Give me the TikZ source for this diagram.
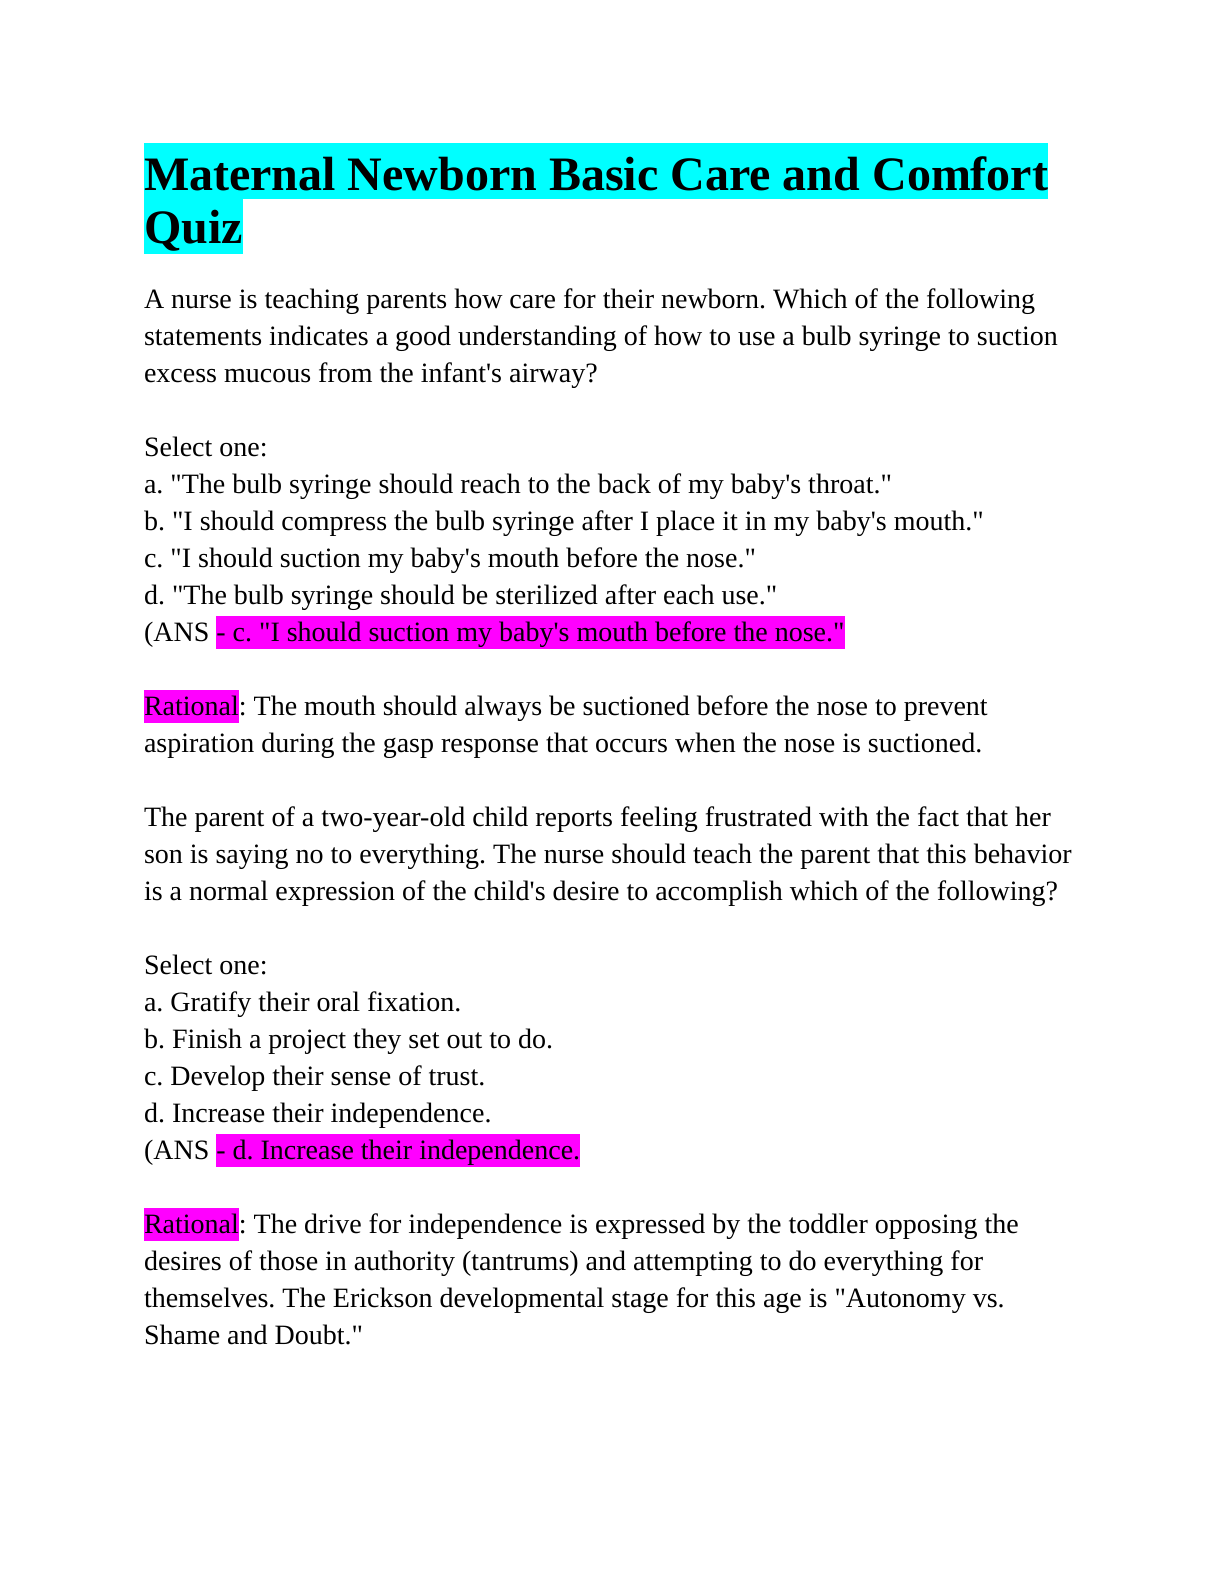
\documentclass[tikz,border=0pt]{standalone}
\usepackage{fontspec}
\setmainfont{Liberation Serif}[Ligatures=TeXOff]
\definecolor{hlcyan}{RGB}{0,255,255}
\definecolor{hlmag}{RGB}{255,0,255}
\tikzset{
  body/.style={anchor=base west, inner sep=0pt, outer sep=0pt, font=\fontsize{14pt}{18.5pt}\selectfont\frenchspacing},
  magbox/.style={body, fill=hlmag, text height=12.5pt, text depth=4pt},
  ttl/.style={anchor=base west, inner sep=0pt, outer sep=0pt, fill=hlcyan, font=\fontsize{24pt}{27pt}\selectfont\bfseries\frenchspacing}
}
\begin{document}
\begin{tikzpicture}[x=1pt,y=1pt]
\useasboundingbox[fill=white] (0,0) rectangle (612,-792);
% title
\node[ttl, text height=23.5pt, text depth=4.5pt] (t1) at (72,-95) {Maternal Newborn Basic Care and Comfort};
\node[ttl, text height=22pt, text depth=5.5pt] (t2) at (72,-121.5) {Quiz};
% question 1
\node[body] (l0) at (72,{-154-0*18.5}) {A nurse is teaching parents how care for their newborn. Which of the following};
\node[body] (l1) at (72,{-154-1*18.5}) {statements indicates a good understanding of how to use a bulb syringe to suction};
\node[body] (l2) at (72,{-154-2*18.5}) {excess mucous from the infant's airway?};
\node[body] (l4) at (72,{-154-4*18.5}) {Select one:};
\node[body] (l5) at (72,{-154-5*18.5}) {a. "The bulb syringe should reach to the back of my baby's throat."};
\node[body] (l6) at (72,{-154-6*18.5}) {b. "I should compress the bulb syringe after I place it in my baby's mouth."};
\node[body] (l7) at (72,{-154-7*18.5}) {c. "I should suction my baby's mouth before the nose."};
\node[body] (l8) at (72,{-154-8*18.5}) {d. "The bulb syringe should be sterilized after each use."};
\node[body] (l9) at (72,{-154-9*18.5}) {(ANS\ \null};
\node[magbox] (a1) at (l9.base east) {- c. "I should suction my baby's mouth before the nose."};
\node[magbox] (r1) at (72,{-154-11*18.5}) {Rational};
\node[body] (l11) at (r1.base east) {: The mouth should always be suctioned before the nose to prevent};
\node[body] (l12) at (72,{-154-12*18.5}) {aspiration during the gasp response that occurs when the nose is suctioned.};
% question 2
\node[body] (l14) at (72,{-154-14*18.5}) {The parent of a two-year-old child reports feeling frustrated with the fact that her};
\node[body] (l15) at (72,{-154-15*18.5}) {son is saying no to everything. The nurse should teach the parent that this behavior};
\node[body] (l16) at (72,{-154-16*18.5}) {is a normal expression of the child's desire to accomplish which of the following?};
\node[body] (l18) at (72,{-154-18*18.5}) {Select one:};
\node[body] (l19) at (72,{-154-19*18.5}) {a. Gratify their oral fixation.};
\node[body] (l20) at (72,{-154-20*18.5}) {b. Finish a project they set out to do.};
\node[body] (l21) at (72,{-154-21*18.5}) {c. Develop their sense of trust.};
\node[body] (l22) at (72,{-154-22*18.5}) {d. Increase their independence.};
\node[body] (l23) at (72,{-154-23*18.5}) {(ANS\ \null};
\node[magbox] (a2) at (l23.base east) {- d. Increase their independence.};
\node[magbox] (r2) at (72,{-154-25*18.5}) {Rational};
\node[body] (l25) at (r2.base east) {: The drive for independence is expressed by the toddler opposing the};
\node[body] (l26) at (72,{-154-26*18.5}) {desires of those in authority (tantrums) and attempting to do everything for};
\node[body] (l27) at (72,{-154-27*18.5}) {themselves. The Erickson developmental stage for this age is "Autonomy vs.};
\node[body] (l28) at (72,{-154-28*18.5}) {Shame and Doubt."};
\end{tikzpicture}
\end{document}
